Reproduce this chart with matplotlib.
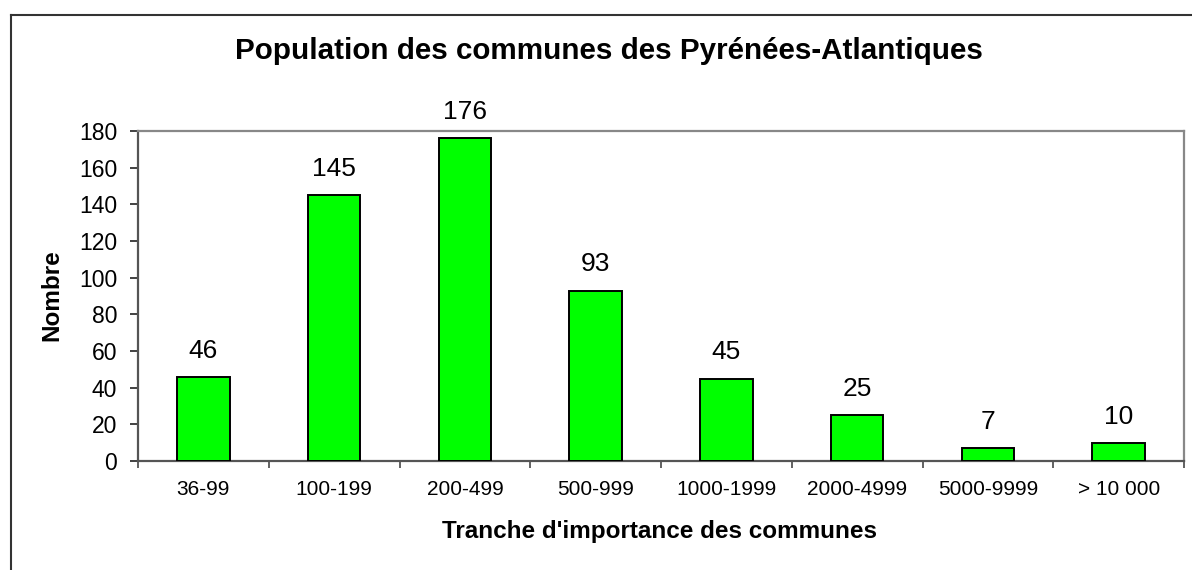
import matplotlib
matplotlib.use("Agg")
import matplotlib.pyplot as plt
from matplotlib.lines import Line2D

categories = ["36-99", "100-199", "200-499", "500-999", "1000-1999", "2000-4999", "5000-9999", "> 10 000"]
values = [46, 145, 176, 93, 45, 25, 7, 10]
yticks = [0, 20, 40, 60, 80, 100, 120, 140, 160, 180]

plt.rcParams['font.family'] = ['Liberation Sans', 'DejaVu Sans']

W, H = 1192, 570
fig = plt.figure(figsize=(W / 100, H / 100), dpi=100)
ax = fig.add_axes([138 / W, 1 - 461 / H, (1184 - 138) / W, (461 - 131) / H])

x = list(range(len(categories)))
ax.bar(x, values, width=0.4, color="#00FF00", edgecolor="black", linewidth=1.4, zorder=3)
for xi, v in zip(x, values):
    ax.annotate(str(v), xy=(xi, v), xytext=(0, 13.7), textcoords="offset points",
                ha="center", va="baseline", fontsize=19)

ax.set_xlim(-0.5, len(categories) - 0.5)
ax.set_ylim(0, 180)
ax.set_yticks(yticks)
ax.set_yticklabels([str(t) for t in yticks], fontsize=16.5)
ax.set_xticks(x)
ax.set_xticklabels(categories, fontsize=15)
ax.tick_params(axis="x", length=0, pad=13.7)
ax.set_xticks([i - 0.5 for i in range(len(categories) + 1)], minor=True)
ax.tick_params(axis="x", which="minor", length=5, width=1.3, color="#555555", direction="out")
ax.tick_params(axis="y", length=6, width=1.3, color="#333333", direction="out", pad=9)

for s in ["top", "right"]:
    ax.spines[s].set_color("#888888")
    ax.spines[s].set_linewidth(1.6)
for s in ["left", "bottom"]:
    ax.spines[s].set_color("#555555")
    ax.spines[s].set_linewidth(1.6)

fig.text(660 / W, 1 - 538 / H, "Tranche d'importance des communes",
         ha="center", va="baseline", fontsize=17.5, fontweight="bold")
fig.text(52 / W, 1 - 295 / H, "Nombre", rotation=90,
         ha="center", va="center", fontsize=17.5, fontweight="bold")

fig.text(609 / W, 1 - 59 / H, "Population des communes des Pyrénées-Atlantiques",
         ha="center", va="baseline", fontsize=21.3, fontweight="bold")

fig.add_artist(Line2D([11 / W, 11 / W], [0, 1 - 15 / H], transform=fig.transFigure, color="#333333", lw=1.5))
fig.add_artist(Line2D([11 / W, 1], [1 - 15 / H, 1 - 15 / H], transform=fig.transFigure, color="#333333", lw=1.5))

fig.savefig("out.png", dpi=100)
